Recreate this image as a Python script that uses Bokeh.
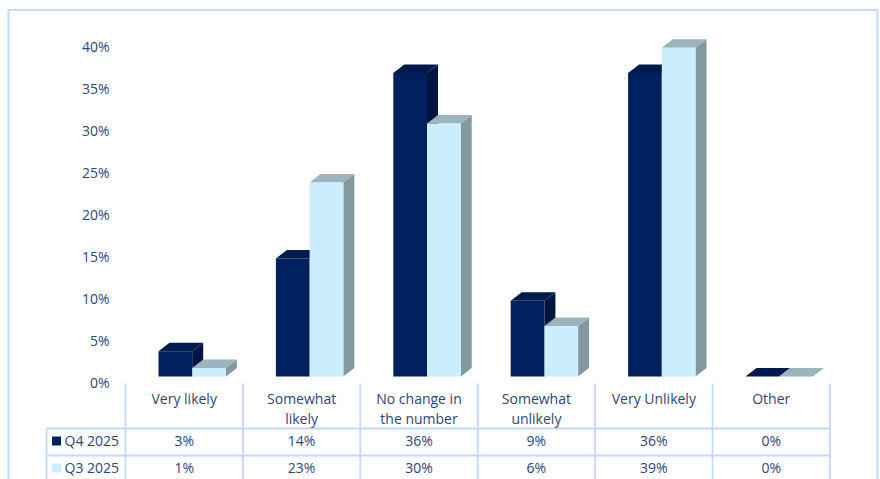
from bokeh.embed import file_html
from bokeh.resources import INLINE
from bokeh.plotting import figure
from bokeh.models import Range1d, LinearAxis, FixedTicker, PrintfTickFormatter
from bokeh.core.properties import value

categories = ["Very likely", "Somewhat\nlikely", "No change in\nthe number",
              "Somewhat\nunlikely", "Very Unlikely", "Other"]
series_names = ["Q4 2025", "Q3 2025"]
q4_2025 = [3, 14, 36, 9, 36, 0]
q3_2025 = [1, 23, 30, 6, 39, 0]
axis_ticks = [0, 5, 10, 15, 20, 25, 30, 35, 40]

FONT = "Open Sans"
TEXT = "#2F4678"
GRID = "#C5D7FB"
FRONT = ["#002060", "#CAEEFB"]
TOP = ["#001A4E", "#9BB4BD"]
SIDE = ["#001442", "#84989F"]

W, H = 880, 479
CAT_PX = 117.4
VAL_PX = 8.43
X0_PX, BASE_PX = 125, 376

# Horizontal unit: one category. Vertical unit: one percentage point.
def xd(px):
    return (px - X0_PX) / CAT_PX

def yd(py):
    return (BASE_PX - py) / VAL_PX

p = figure(width=W, height=H, output_backend="svg", toolbar_location=None,
           x_range=Range1d(xd(0), xd(W)), y_range=Range1d(yd(H), yd(0)),
           min_border=0, outline_line_color=None, background_fill_color="white")
p.xaxis.visible = False
p.yaxis.visible = False
p.xgrid.visible = False
p.ygrid.visible = False

# Percent axis sits slightly below the bars' front plane, as on a 3D floor.
p.extra_y_ranges["ticks"] = Range1d(-(H - 382) / 8.4, 382 / 8.4)
axis = LinearAxis(y_range_name="ticks", fixed_location=xd(118),
                  ticker=FixedTicker(ticks=axis_ticks),
                  formatter=PrintfTickFormatter(format="%d%%"),
                  axis_line_color=None, major_tick_line_color=None,
                  minor_tick_line_color=None, major_label_standoff=3,
                  major_label_text_font=FONT,
                  major_label_text_font_size="14px",
                  major_label_text_color=TEXT)
p.add_layout(axis, "left")

# Extruded bars: front face, top face and right side for each series.
BAR_W = 33.7 / CAT_PX
BAR_GAP = 33 / CAT_PX
DX = 11 / CAT_PX
DY = 8.5 / VAL_PX
for s, vals in enumerate([q4_2025, q3_2025]):
    for i, v in enumerate(vals):
        l = i + BAR_GAP + s * BAR_W
        r = l + BAR_W
        p.patch([r, r + DX, r + DX, r], [0, DY, v + DY, v], fill_color=SIDE[s], line_color=None)
        p.patch([l, r, r + DX, l + DX], [v, v, v + DY, v + DY], fill_color=TOP[s], line_color=None)
        p.quad(left=l, right=r, bottom=0, top=v, fill_color=FRONT[s], line_color=None)

# Data table under the plot.
col_edges = [i for i in range(len(categories) + 1)]
top_y, row1_y, row2_y, end_y = yd(383), yd(428), yd(455), yd(482)
p.segment(x0=col_edges, x1=col_edges, y0=[top_y] * 7, y1=[end_y] * 7, line_color=GRID, line_width=1.8)
table_left = xd(46)
for yy in (row1_y, row2_y):
    p.segment(x0=[table_left], x1=[len(categories)], y0=[yy], y1=[yy], line_color=GRID, line_width=1.8)
p.segment(x0=[table_left], x1=[table_left], y0=[row1_y], y1=[end_y], line_color=GRID, line_width=1.8)

centers = [i + 0.5 for i in range(len(categories))]
p.text(x=centers, y=[yd(388)] * 6, text=categories, text_font=value(FONT), text_font_size="14px",
       text_color=TEXT, text_align="center", text_baseline="top", text_line_height=1.1)
row_mid = ((row1_y + row2_y) / 2, (row2_y + end_y) / 2)
for vals, yy in zip((q4_2025, q3_2025), row_mid):
    p.text(x=centers, y=[yy + 1.5 / VAL_PX] * 6, text=[f"{v}%" for v in vals], text_font=value(FONT),
           text_font_size="14px", text_color=TEXT, text_align="center", text_baseline="middle")

# Series keys in the table's first column.
for name, color, yy in zip(series_names, FRONT, row_mid):
    half = 4.5 / VAL_PX
    p.quad(left=xd(51.5), right=xd(60.5), bottom=yy - half + 1 / VAL_PX, top=yy + half + 1 / VAL_PX,
           fill_color=color, line_color=None)
    p.text(x=[xd(64)], y=[yy + 1.5 / VAL_PX], text=[name], text_font=value(FONT), text_font_size="14px",
           text_color=TEXT, text_align="left", text_baseline="middle")

# Chart area border, open past the bottom of the page.
p.line(x=[xd(8), xd(8), xd(877), xd(877)], y=[yd(H + 5), yd(9.5), yd(9.5), yd(H + 5)],
       line_color=GRID, line_width=2)

open("out.html", "w").write(file_html(p, INLINE))
